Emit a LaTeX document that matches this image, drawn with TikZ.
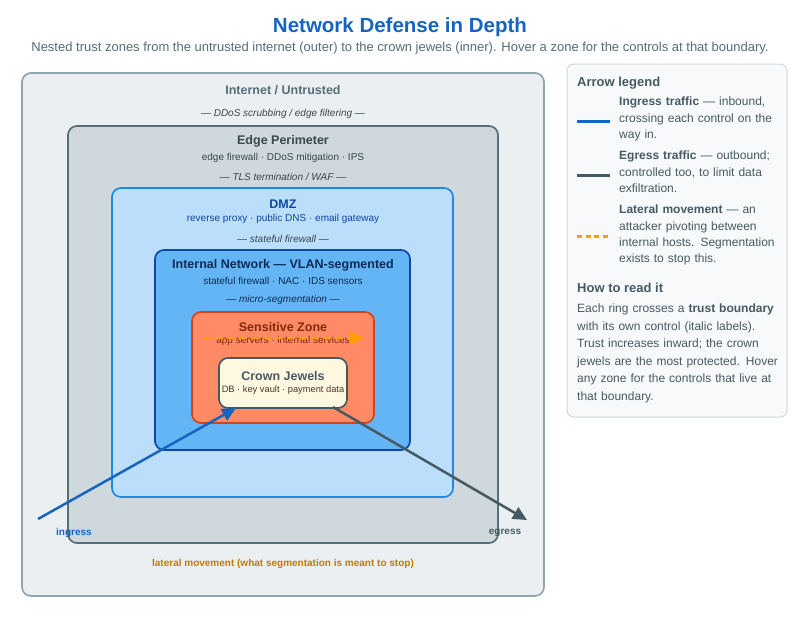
\documentclass[tikz,border=0pt]{standalone}
\usepackage{fontspec}
\setmainfont{Liberation Sans}
\usetikzlibrary{arrows.meta}
\hyphenpenalty=10000
\exhyphenpenalty=10000
\definecolor{titleblue}{HTML}{1565C0}
\definecolor{slate}{HTML}{455A64}
\definecolor{greytxt}{HTML}{546E7A}
\definecolor{lateral}{HTML}{FFA000}
\definecolor{latertxt}{HTML}{C77800}
\definecolor{inetfill}{HTML}{ECEFF1}
\definecolor{inetdraw}{HTML}{90A4AE}
\definecolor{edgefill}{HTML}{CFD8DC}
\definecolor{edgetxt}{HTML}{37474F}
\definecolor{dmzfill}{HTML}{BBDEFB}
\definecolor{dmzdraw}{HTML}{1E88E5}
\definecolor{intfill}{HTML}{64B5F6}
\definecolor{intdraw}{HTML}{0D47A1}
\definecolor{inttxt}{HTML}{0D2B52}
\definecolor{sensfill}{HTML}{FF8A65}
\definecolor{sensdraw}{HTML}{D84315}
\definecolor{senstxt}{HTML}{7F2A0A}
\definecolor{crownfill}{HTML}{FFF8E1}
\definecolor{crowntxt}{HTML}{4E342E}
\definecolor{legfill}{HTML}{F8F9FB}
\tikzset{
  zone/.style={draw, rounded corners=9pt, line width=1.7pt},
  zname/.style={font=\bfseries\fontsize{12.5}{14}\selectfont},
  zctl/.style={font=\fontsize{10}{12}\selectfont},
  zbound/.style={font=\itshape\fontsize{10}{12}\selectfont, text=edgetxt},
  flow/.style={line width=2.5pt, -{Triangle[length=14pt,width=13pt]}},
  legtxt/.style={anchor=north west, align=left, text width=164pt, text=slate,
    font=\fontsize{12}{16.2}\selectfont, inner sep=0pt}
}
\begin{document}
\begin{tikzpicture}[x=1pt,y=-1pt]
  \useasboundingbox[fill=white] (0,0) rectangle (800,622);
  % title
  \node (title) at (400,27) [text=titleblue, font=\bfseries\fontsize{20.5}{23}\selectfont] {Network Defense in Depth};
  \node (sub) at (400,48) [text=greytxt, font=\fontsize{13}{15}\selectfont] {Nested trust zones from the untrusted internet (outer) to the crown jewels (inner). Hover a zone for the controls at that boundary.};
  % zones, outer to inner
  \draw[zone, fill=inetfill, draw=inetdraw] (22,73) rectangle (544,596);
  \draw[zone, fill=edgefill, draw=greytxt] (68,126) rectangle (498,543);
  \draw[zone, fill=dmzfill, draw=dmzdraw] (112,188) rectangle (453,497);
  \draw[zone, fill=intfill, draw=intdraw] (155,250) rectangle (410,450);
  \draw[zone, fill=sensfill, draw=sensdraw] (192,312) rectangle (374,423);
  \draw[zone, fill=crownfill, draw=slate] (219,358) rectangle (347,408);
  % zone labels
  \node (inet) at (283,90) [zname, text=greytxt] {Internet / Untrusted};
  \node (inetb) at (283,114) [zbound] {— DDoS scrubbing / edge filtering —};
  \node (edge) at (283,141) [zname, text=edgetxt] {Edge Perimeter};
  \node (edgec) at (283,158) [zctl, text=edgetxt] {edge firewall · DDoS mitigation · IPS};
  \node (edgeb) at (283,177) [zbound] {— TLS termination / WAF —};
  \node (dmz) at (283,204) [zname, text=intdraw] {DMZ};
  \node (dmzc) at (283,219) [zctl, text=intdraw] {reverse proxy · public DNS · email gateway};
  \node (dmzb) at (283,239) [zbound] {— stateful firewall —};
  \node (int) at (283,265) [zname, text=inttxt] {Internal Network — VLAN-segmented};
  \node (intc) at (283,281) [zctl, text=inttxt] {stateful firewall · NAC · IDS sensors};
  \node (intb) at (283,300) [zbound, text=inttxt] {— micro-segmentation —};
  \node (sens) at (283,327) [zname, text=senstxt] {Sensitive Zone};
  \node (sensc) at (283,341) [zctl, text=senstxt] {app servers · internal services};
  \node (crown) at (283,376) [zname, text=slate] {Crown Jewels};
  \node (crownc) at (283,390) [zctl, font=\fontsize{9.3}{11}\selectfont, text=crowntxt] {DB · key vault · payment data};
  % flows
  \coordinate (inS) at (38,519);
  \coordinate (inE) at (236,408);
  \coordinate (egS) at (333,407);
  \coordinate (egE) at (527,520);
  \coordinate (latS) at (203,338);
  \coordinate (latE) at (364,338);
  \draw[flow, titleblue] (inS) -- (inE);
  \draw[flow, slate] (egS) -- (egE);
  \draw[flow, lateral, dash pattern=on 8pt off 4pt] (latS) -- (latE);
  \node (ingl) at (74,533) [text=titleblue, font=\bfseries\fontsize{10}{12}\selectfont] {ingress};
  \node (egl) at (505,533) [text=slate, font=\bfseries\fontsize{10}{12}\selectfont] {egress};
  \node (latl) at (283,564) [text=latertxt, font=\bfseries\fontsize{10}{12}\selectfont] {lateral movement (what segmentation is meant to stop)};
  % legend
  \draw[rounded corners=7pt, line width=1pt, fill=legfill, draw=edgefill] (567,64) rectangle (787,417);
  \node (legh) at (577,83) [anchor=west, inner sep=0pt, text=slate, font=\bfseries\fontsize{13}{15}\selectfont] {Arrow legend};
  \coordinate (l1a) at (577,121); \coordinate (l1b) at (610,121);
  \coordinate (l2a) at (577,175); \coordinate (l2b) at (610,175);
  \coordinate (l3a) at (577,236); \coordinate (l3b) at (610,236);
  \draw[titleblue, line width=3pt] (l1a) -- (l1b);
  \draw[slate, line width=3pt] (l2a) -- (l2b);
  \draw[lateral, line width=3pt, dash pattern=on 5pt off 3.5pt] (l3a) -- (l3b);
  \node (leg1) at (619,97) [legtxt] {\textbf{Ingress traffic} — inbound, crossing each control on the way in.};
  \node (leg2) at (619,151) [legtxt] {\textbf{Egress traffic} — outbound; controlled too, to limit data exfiltration.};
  \node (leg3) at (619,205) [legtxt] {\textbf{Lateral movement} — an attacker pivoting between internal hosts. Segmentation exists to stop this.};
  \node (readh) at (577,288) [anchor=west, inner sep=0pt, text=slate, font=\bfseries\fontsize{13}{15}\selectfont] {How to read it};
  \node (read) at (577,304) [legtxt, text width=205pt, font=\fontsize{12}{17.5}\selectfont] {Each ring crosses a \textbf{trust boundary} with its own control (italic labels). Trust increases inward; the crown jewels are the most protected. Hover any zone for the controls that live at that boundary.};
\end{tikzpicture}
\end{document}
